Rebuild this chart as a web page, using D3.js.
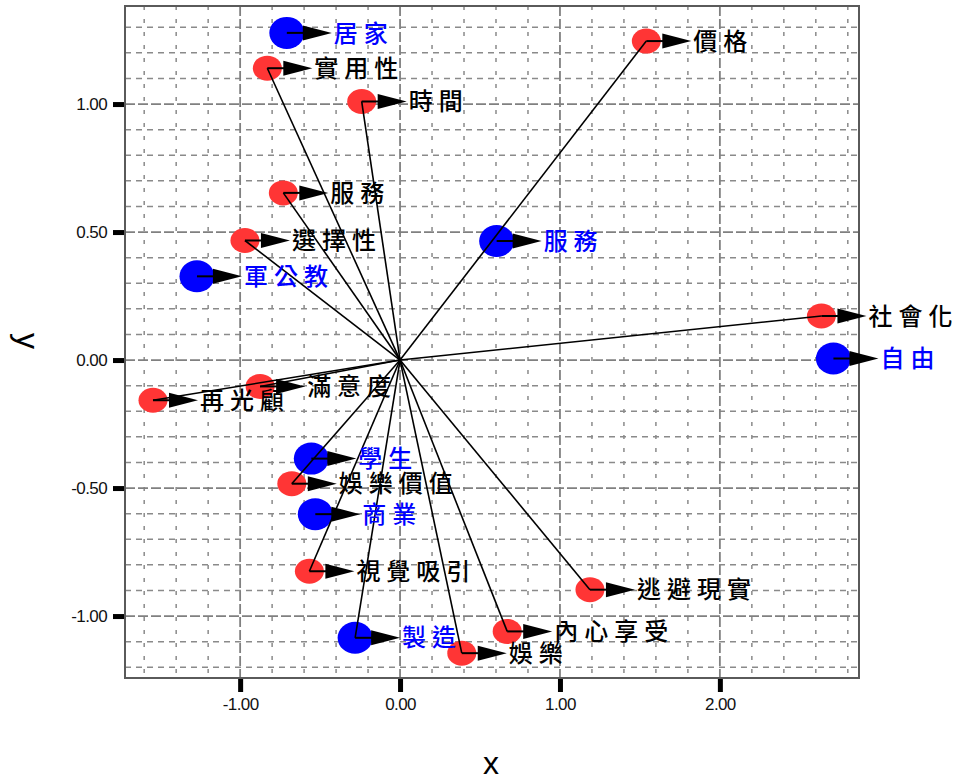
<!DOCTYPE html>
<html><head><meta charset="utf-8">
<script src="https://cdn.jsdelivr.net/npm/d3@7"></script>
<style>body{margin:0;background:#fff}</style>
</head><body><svg id="c" width="960" height="780"></svg>
<script>
// ---- data ----
const attrLabels = ["價格","實用性","時間","服務","選擇性","社會化","滿意度","再光顧","娛樂價值","視覺吸引","逃避現實","內心享受","娛樂"];
const attrX = [1.54, -0.83, -0.24, -0.73, -0.97, 2.635, -0.875, -1.545, -0.677, -0.567, 1.1875, 0.67, 0.386];
const attrY = [1.246, 1.14, 1.01, 0.653, 0.467, 0.172, -0.103, -0.157, -0.483, -0.825, -0.897, -1.06, -1.145];

const occLabels = ["居家","服務","軍公教","自由","學生","商業","製造"];
const occX = [-0.708, 0.604, -1.27, 2.71, -0.555, -0.53, -0.281];
const occY = [1.278, 0.465, 0.327, 0.006, -0.385, -0.602, -1.085];
const occVector = [false, false, false, false, false, false, true];

const xTicks = [-1, 0, 1, 2];
const yTicks = [-1, -0.5, 0, 0.5, 1];
const xTitle = "x", yTitle = "y";

// ---- build ----
const attr = attrLabels.map((l,i)=>({label:l, x:attrX[i], y:attrY[i], type:"attr", vec:true}));
const occ = occLabels.map((l,i)=>({label:l, x:occX[i], y:occY[i], type:"occ", vec:occVector[i]}));
const all = attr.concat(occ);

const svg = d3.select("#c");
const L = 125, R = 859, T = 6, B = 678;
const x = d3.scaleLinear().domain([-1.72, 2.87]).range([L, R]);
const y = d3.scaleLinear().domain([-1.242, 1.383]).range([B, T]);

const colors = {attr:"#ff3535", occ:"#0000ff"};
const textColors = {attr:"#000", occ:"#0000ff"};

// grid
const g = svg.append("g");
const minorX = d3.range(-8, 15).filter(i => i % 5 !== 0).map(i => i/5);
const minorY = d3.range(-12, 14).filter(i => i % 5 !== 0).map(i => i/10);
g.selectAll(".mx").data(minorX).join("line")
  .attr("x1", d=>x(d)).attr("x2", d=>x(d)).attr("y1", T).attr("y2", B)
  .attr("stroke", "#8a8a8a").attr("stroke-width", 1.5).attr("stroke-dasharray", "4,9");
g.selectAll(".my").data(minorY).join("line")
  .attr("y1", d=>y(d)).attr("y2", d=>y(d)).attr("x1", L).attr("x2", R)
  .attr("stroke", "#8a8a8a").attr("stroke-width", 1.5).attr("stroke-dasharray", "6,5");
g.selectAll(".Mx").data(xTicks).join("line")
  .attr("x1", d=>x(d)).attr("x2", d=>x(d)).attr("y1", T).attr("y2", B)
  .attr("stroke", "#808080").attr("stroke-width", 1.8).attr("stroke-dasharray", "10,3");
g.selectAll(".My").data(yTicks).join("line")
  .attr("y1", d=>y(d)).attr("y2", d=>y(d)).attr("x1", L).attr("x2", R)
  .attr("stroke", "#808080").attr("stroke-width", 1.8).attr("stroke-dasharray", "10,3");

// border
svg.append("rect").attr("x", L).attr("y", T).attr("width", R-L).attr("height", B-T)
  .attr("fill", "none").attr("stroke", "#5a5a5a").attr("stroke-width", 2);

// axes
const fmt = d => d3.format(".2f")(d).replace("\u2212", "-");
const ax = svg.append("g").attr("transform", `translate(0,${B+1})`)
  .call(d3.axisBottom(x).tickValues(xTicks).tickFormat(fmt).tickSize(13).tickPadding(6));
const ay = svg.append("g").attr("transform", `translate(${L-1},0)`)
  .call(d3.axisLeft(y).tickValues(yTicks).tickFormat(fmt).tickSize(11).tickPadding(6));
[ax, ay].forEach(a => {
  a.select(".domain").remove();
  a.selectAll(".tick line").attr("stroke", "#000").attr("stroke-width", 5);
  a.selectAll(".tick text").attr("fill", "#111")
    .style("font-family", "'Liberation Sans', Arial, sans-serif").style("font-size", "17px")
    .attr("letter-spacing", "-0.6");
});

// titles
svg.append("text").attr("x", 491).attr("y", 774).attr("text-anchor", "middle")
  .style("font-family", "'Liberation Sans', Arial, sans-serif").style("font-size", "32px").text(xTitle);
svg.append("text").attr("transform", "translate(17,341) rotate(90)").attr("text-anchor", "middle")
  .style("font-family", "'Liberation Sans', Arial, sans-serif").style("font-size", "32px").text(yTitle);

// ellipses
const pts = svg.append("g");
pts.selectAll("ellipse").data(attr.concat(occ)).join("ellipse")
  .attr("cx", d=>x(d.x)).attr("cy", d=>y(d.y))
  .attr("rx", d=>d.type==="attr"?14.5:17.5).attr("ry", d=>d.type==="attr"?12.5:16)
  .attr("fill", d=>colors[d.type]);

// vectors from origin
svg.append("g").selectAll("line").data(all.filter(d=>d.vec)).join("line")
  .attr("x1", x(0)).attr("y1", y(0)).attr("x2", d=>x(d.x)).attr("y2", d=>y(d.y))
  .attr("stroke", "#000").attr("stroke-width", 1.6);

// label arrows
const arr = svg.append("g");
arr.selectAll("line").data(all).join("line")
  .attr("x1", d=>x(d.x)).attr("y1", d=>y(d.y)).attr("x2", d=>x(d.x)+17).attr("y2", d=>y(d.y))
  .attr("stroke", "#000").attr("stroke-width", 2);
arr.selectAll("path").data(all).join("path")
  .attr("d", d => { const cx = x(d.x), cy = y(d.y);
    return `M${cx+16},${cy-7.5}L${cx+45},${cy}L${cx+16},${cy+7.5}Z`; })
  .attr("fill", "#000");

// labels
svg.append("g").selectAll("text").data(all).join("text")
  .attr("x", d=>x(d.x)+47).attr("y", d=>y(d.y)).attr("dy", "0.36em")
  .attr("fill", d=>textColors[d.type])
  .attr("letter-spacing", 6)
  .style("font-family", "'Noto Sans CJK TC', 'Noto Sans CJK SC', sans-serif")
  .style("font-size", "24px").style("font-weight", 500)
  .text(d=>d.label);
</script></body></html>
